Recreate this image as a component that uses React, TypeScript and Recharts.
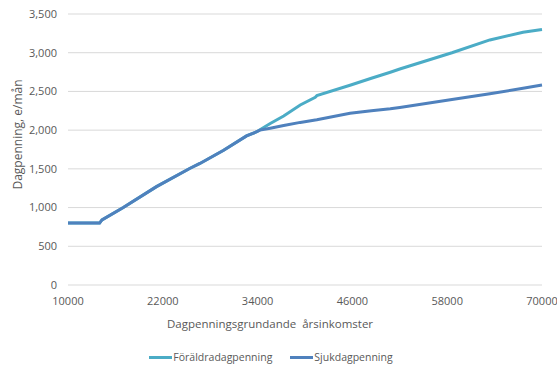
import { LineChart, Line, XAxis, YAxis, CartesianGrid, Legend, Label } from 'recharts';

const income = [10000, 14000, 14300, 17000, 21200, 25400, 26700, 29700, 32600, 33900, 34300, 35600, 37300, 39400, 41300, 41500, 45700, 48400, 50800, 52000, 58600, 63400, 67600, 70000];
const foraldra = [800, 800, 840, 1000, 1270, 1505, 1570, 1740, 1925, 1980, 2005, 2085, 2183, 2325, 2425, 2445, 2580, 2670, 2748, 2790, 3000, 3165, 3265, 3300];
const sjuk = [800, 800, 840, 1000, 1270, 1505, 1570, 1740, 1925, 1980, 2000, 2025, 2060, 2100, 2130, 2133, 2218, 2250, 2275, 2292, 2395, 2470, 2540, 2584];

const xTicks = [10000, 22000, 34000, 46000, 58000, 70000];
const yTicks = [0, 500, 1000, 1500, 2000, 2500, 3000, 3500];

const seriesNames = ['Föräldradagpenning', 'Sjukdagpenning'];
const seriesColors = ['#4bacc6', '#4f81bd'];

const data = income.map((x, i) => ({ income: x, foraldra: foraldra[i], sjuk: sjuk[i] }));

const FONT = '"Open Sans", sans-serif';
const TEXT = '#595959';

function ChartLegend() {
  return (
    <div style={{ height: 30, display: 'flex', justifyContent: 'center', alignItems: 'center', gap: 18, fontFamily: FONT, fontSize: 10.5, color: TEXT }}>
      {seriesNames.map((name, i) => (
        <span key={name} style={{ display: 'flex', alignItems: 'center', gap: 1 }}>
          <span style={{ display: 'inline-block', width: 23, height: 3, background: seriesColors[i] }} />
          {name}
        </span>
      ))}
    </div>
  );
}

export default function App() {
  return (
    <div style={{ width: 557, height: 372, background: '#fff' }}>
      <style>{'body{margin:0}'}</style>
      <LineChart width={557} height={372} data={data} margin={{ top: 14, right: 15, bottom: 0, left: 0 }}>
        <CartesianGrid vertical={false} stroke="#d9d9d9" />
        <XAxis
          dataKey="income"
          type="number"
          domain={[10000, 70000]}
          ticks={xTicks}
          axisLine={false}
          tickLine={false}
          tickMargin={6}
          height={57}
          tick={{ fill: TEXT, fontSize: 11, fontFamily: FONT }}
        >
          <Label
            content={({ viewBox }: any) => (
              <text x={270} y={viewBox.y + 38} textAnchor="middle" dominantBaseline="central" fill={TEXT} fontSize={11.5} fontFamily={FONT}>
                {'Dagpenningsgrundande\u00a0\u00a0årsinkomster'}
              </text>
            )}
          />
        </XAxis>
        <YAxis
          domain={[0, 3500]}
          ticks={yTicks}
          axisLine={false}
          tickLine={false}
          tickMargin={5}
          width={68}
          tickFormatter={(v: number) => v.toLocaleString('en-US')}
          tick={{ fill: TEXT, fontSize: 11, fontFamily: FONT }}
        >
          <Label
            content={({ viewBox }: any) => {
              const cy = viewBox.y + viewBox.height / 2 - 15;
              return (
                <text x={17} y={cy} transform={`rotate(-90, 17, ${cy})`} textAnchor="middle" dominantBaseline="central" fill={TEXT} fontSize={12} fontFamily={FONT}>
                  Dagpenning, e/mån
                </text>
              );
            }}
          />
        </YAxis>
        <Legend verticalAlign="bottom" height={30} content={() => <ChartLegend />} />
        <Line type="linear" dataKey="foraldra" name={seriesNames[0]} stroke={seriesColors[0]} strokeWidth={3} dot={false} isAnimationActive={false} />
        <Line type="linear" dataKey="sjuk" name={seriesNames[1]} stroke={seriesColors[1]} strokeWidth={3} dot={false} isAnimationActive={false} />
      </LineChart>
    </div>
  );
}
